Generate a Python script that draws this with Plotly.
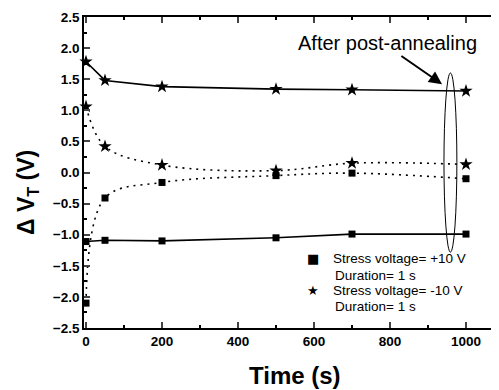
import plotly.graph_objects as go

time_s = [0, 50, 200, 500, 700, 1000]
sq_after = [-1.11, -1.09, -1.10, -1.05, -0.99, -0.99]
sq_before = [-2.10, -0.41, -0.16, -0.05, -0.01, -0.10]
st_after = [1.78, 1.48, 1.38, 1.34, 1.33, 1.31]
st_before = [1.06, 0.42, 0.12, 0.03, 0.15, 0.13]

legend_labels = ["Stress voltage= +10 V", "Duration= 1 s", "Stress voltage= -10 V", "Duration= 1 s"]
note_text = "After post-annealing"

FONT = "Liberation Sans, Arial, sans-serif"
fig = go.Figure()

def add(y, symbol, size, dash, shape):
    fig.add_trace(go.Scatter(
        x=time_s, y=y, mode="lines+markers",
        line=dict(color="black", width=1.6, dash=dash, shape=shape, smoothing=1.0),
        marker=dict(symbol=symbol, size=size, color="black"),
        showlegend=False, cliponaxis=False))

add(sq_after, "square", 7, "solid", "linear")
add(sq_before, "square", 7, "2px,5px", "spline")
add(st_after, "star", 10, "solid", "linear")
add(st_before, "star", 10, "2px,5px", "spline")

# page body has an 8px margin, so the figure is drawn 8px in from the corner
PAD = 8
PLOT_L, PLOT_T, PLOT_B = 84, 17, 328
plot_w = 499 - PLOT_L
plot_h = PLOT_B - PLOT_T

px_per_unit = 0.38
x_min = -2 / px_per_unit
x_max = x_min + plot_w / px_per_unit

fig.update_layout(
    width=499 - PAD, height=390 - PAD,
    margin=dict(l=PLOT_L - PAD, r=0, t=PLOT_T - PAD, b=390 - PLOT_B, autoexpand=False),
    paper_bgcolor="white", plot_bgcolor="white",
    font=dict(family=FONT, color="black"),
    xaxis=dict(range=[x_min, x_max], tickvals=[0, 200, 400, 600, 800, 1000],
               ticks="inside", ticklen=6, tickwidth=1.5, showline=True, linecolor="black",
               linewidth=1.5, mirror="allticks", showgrid=False, zeroline=False,
               tickfont=dict(size=13.5, family=FONT, weight="bold"),
               minor=dict(tickvals=[100, 300, 500, 700, 900], ticks="inside", ticklen=3, tickcolor="black")),
    yaxis=dict(range=[-2.5, 2.5], dtick=0.5, tick0=0, tickformat=".1f",
               ticks="inside", ticklen=6, tickwidth=1.5, showline=True, linecolor="black",
               linewidth=1.5, mirror="allticks", showgrid=False, zeroline=False,
               tickfont=dict(size=13.5, family=FONT, weight="bold"),
               minor=dict(dtick=0.25, ticks="inside", ticklen=3, tickcolor="black")),
)

# axis titles
fig.add_annotation(text="Time (s)", xref="paper", yref="paper",
                   x=(295 - PLOT_L) / plot_w, y=-(375 - PLOT_B) / plot_h,
                   xanchor="center", yanchor="middle", showarrow=False,
                   font=dict(size=24, family=FONT, weight="bold"))
fig.add_annotation(text="Δ V<sub>T</sub> (V)", xref="paper", yref="paper",
                   x=(27 - PLOT_L) / plot_w, y=(PLOT_B - 193) / plot_h,
                   xanchor="center", yanchor="middle",
                   textangle=-90, showarrow=False,
                   font=dict(size=23, family=FONT, weight="bold"))

# note + arrow
fig.add_annotation(text=note_text, x=793, y=2.08, xref="x", yref="y", showarrow=False,
                   font=dict(size=20, family=FONT))
fig.add_annotation(x=937, y=1.42, ax=826, ay=1.89, xref="x", yref="y", axref="x", ayref="y",
                   text="", showarrow=True, arrowhead=2, arrowsize=1.3, arrowwidth=2,
                   arrowcolor="black")
fig.add_shape(type="circle", xref="x", yref="y", x0=942, x1=976, y0=-1.28, y1=1.6,
              line=dict(color="black", width=1))

# legend as text
rows_y = [-1.375, -1.65, -1.89, -2.16]
symbols = ["■", "", "★", ""]
for i, lab in enumerate(legend_labels):
    indent = 651 if lab.startswith("Duration") else 645
    fig.add_annotation(text=lab, x=indent, y=rows_y[i], xref="x", yref="y", xanchor="left",
                       showarrow=False, font=dict(size=13.5, family=FONT))
    if symbols[i]:
        fig.add_annotation(text=symbols[i], x=597, y=rows_y[i], xref="x", yref="y",
                           showarrow=False, font=dict(size=13, family="DejaVu Sans"))

fig.write_html("out.html")
